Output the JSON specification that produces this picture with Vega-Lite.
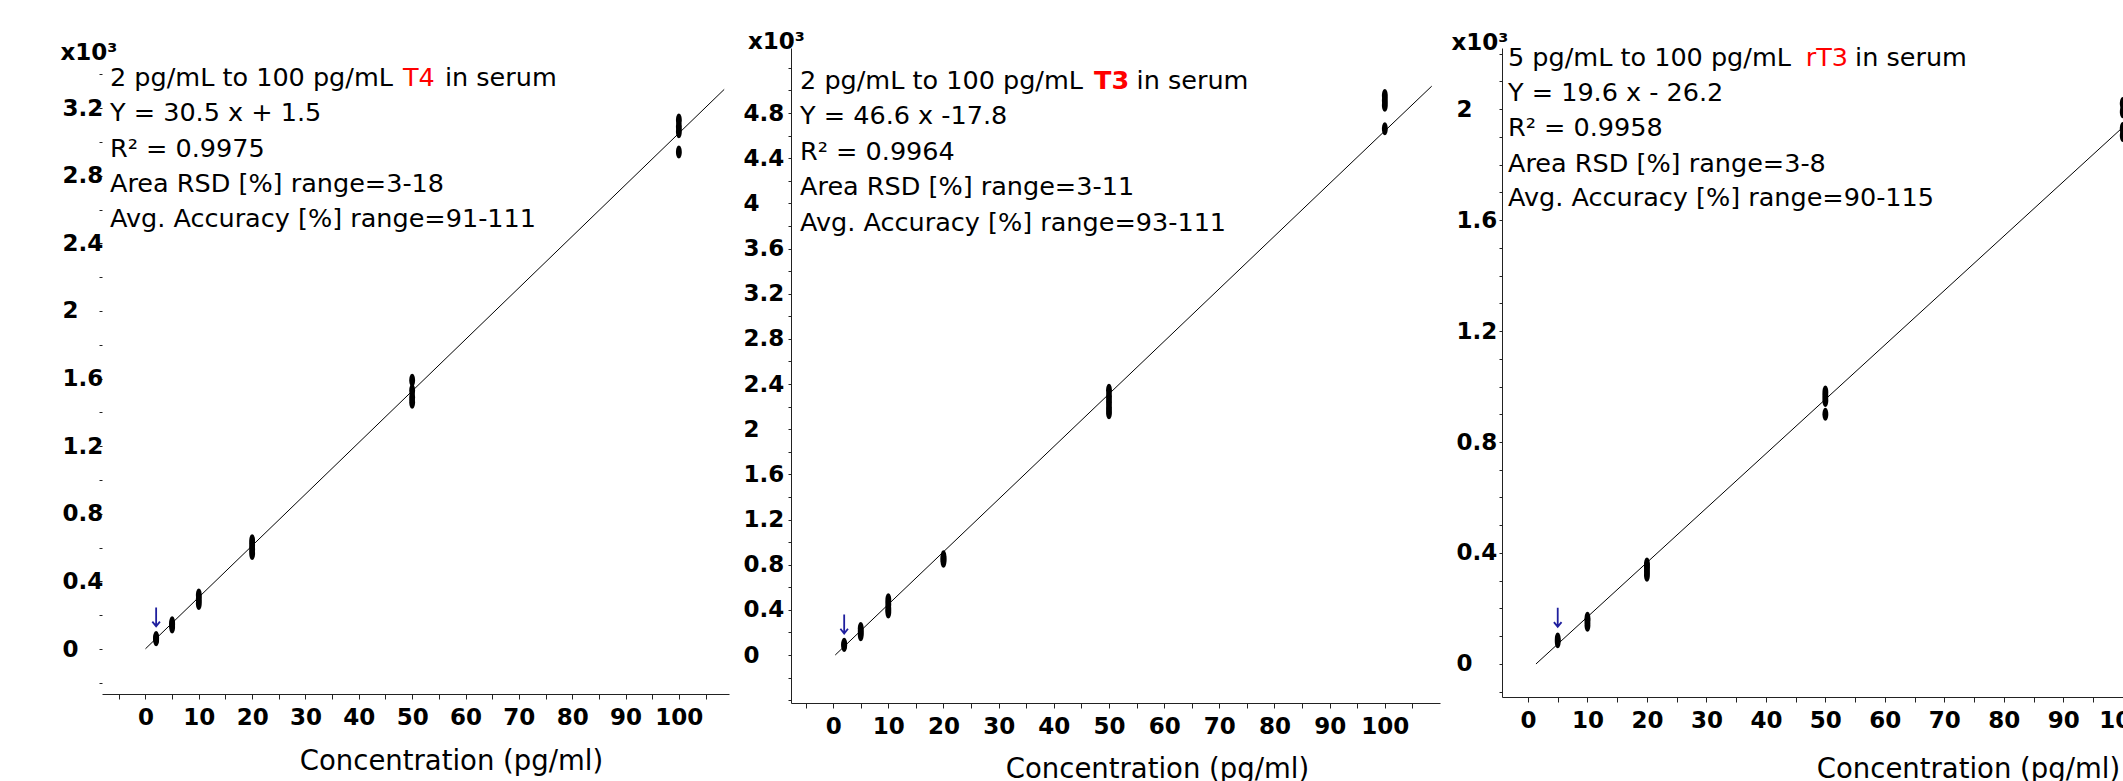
{
  "$schema": "https://vega.github.io/schema/vega-lite/v6.json",
  "background": "white",
  "autosize": {"type": "pad"},
  "padding": {"left": 60, "top": 30, "right": 0, "bottom": 0},
  "config": {
    "view": {"stroke": null},
    "axis": {
      "grid": false,
      "labelFont": "DejaVu Sans",
      "labelFontWeight": "bold",
      "labelFontSize": 23,
      "labelColor": "black",
      "domainColor": "#222222",
      "tickColor": "#222222",
      "domainWidth": 1,
      "tickWidth": 1,
      "titleFont": "DejaVu Sans",
      "titleColor": "black",
      "labelOverlap": false,
      "labelFlush": false
    }
  },
  "datasets": {
    "points": [
      {"panel": "T4", "conc": 2, "resp": 0.055}, {"panel": "T4", "conc": 2, "resp": 0.062}, {"panel": "T4", "conc": 2, "resp": 0.068},
      {"panel": "T4", "conc": 5, "resp": 0.13}, {"panel": "T4", "conc": 5, "resp": 0.145}, {"panel": "T4", "conc": 5, "resp": 0.155},
      {"panel": "T4", "conc": 10, "resp": 0.27}, {"panel": "T4", "conc": 10, "resp": 0.295}, {"panel": "T4", "conc": 10, "resp": 0.32},
      {"panel": "T4", "conc": 20, "resp": 0.565}, {"panel": "T4", "conc": 20, "resp": 0.59}, {"panel": "T4", "conc": 20, "resp": 0.615}, {"panel": "T4", "conc": 20, "resp": 0.64},
      {"panel": "T4", "conc": 50, "resp": 1.46}, {"panel": "T4", "conc": 50, "resp": 1.49}, {"panel": "T4", "conc": 50, "resp": 1.53}, {"panel": "T4", "conc": 50, "resp": 1.59},
      {"panel": "T4", "conc": 100, "resp": 2.94}, {"panel": "T4", "conc": 100, "resp": 3.06}, {"panel": "T4", "conc": 100, "resp": 3.09}, {"panel": "T4", "conc": 100, "resp": 3.13},
      {"panel": "T3", "conc": 2, "resp": 0.085}, {"panel": "T3", "conc": 2, "resp": 0.095},
      {"panel": "T3", "conc": 5, "resp": 0.18}, {"panel": "T3", "conc": 5, "resp": 0.205}, {"panel": "T3", "conc": 5, "resp": 0.235},
      {"panel": "T3", "conc": 10, "resp": 0.38}, {"panel": "T3", "conc": 10, "resp": 0.41}, {"panel": "T3", "conc": 10, "resp": 0.45}, {"panel": "T3", "conc": 10, "resp": 0.49},
      {"panel": "T3", "conc": 20, "resp": 0.83}, {"panel": "T3", "conc": 20, "resp": 0.85}, {"panel": "T3", "conc": 20, "resp": 0.87},
      {"panel": "T3", "conc": 50, "resp": 2.145}, {"panel": "T3", "conc": 50, "resp": 2.19}, {"panel": "T3", "conc": 50, "resp": 2.24}, {"panel": "T3", "conc": 50, "resp": 2.29}, {"panel": "T3", "conc": 50, "resp": 2.345},
      {"panel": "T3", "conc": 100, "resp": 4.66}, {"panel": "T3", "conc": 100, "resp": 4.87}, {"panel": "T3", "conc": 100, "resp": 4.91}, {"panel": "T3", "conc": 100, "resp": 4.955},
      {"panel": "rT3", "conc": 5, "resp": 0.08}, {"panel": "rT3", "conc": 5, "resp": 0.09},
      {"panel": "rT3", "conc": 10, "resp": 0.14}, {"panel": "rT3", "conc": 10, "resp": 0.155}, {"panel": "rT3", "conc": 10, "resp": 0.165},
      {"panel": "rT3", "conc": 20, "resp": 0.32}, {"panel": "rT3", "conc": 20, "resp": 0.335}, {"panel": "rT3", "conc": 20, "resp": 0.35}, {"panel": "rT3", "conc": 20, "resp": 0.36},
      {"panel": "rT3", "conc": 50, "resp": 0.9}, {"panel": "rT3", "conc": 50, "resp": 0.95}, {"panel": "rT3", "conc": 50, "resp": 0.965}, {"panel": "rT3", "conc": 50, "resp": 0.98},
      {"panel": "rT3", "conc": 100, "resp": 1.905}, {"panel": "rT3", "conc": 100, "resp": 1.93}, {"panel": "rT3", "conc": 100, "resp": 1.99}, {"panel": "rT3", "conc": 100, "resp": 2.02}
    ],
    "fits": [
      {"panel": "T4", "conc": 0, "resp": 0.0015}, {"panel": "T4", "conc": 108.5, "resp": 3.311},
      {"panel": "T3", "conc": 0.38, "resp": 0}, {"panel": "T3", "conc": 108.5, "resp": 5.038},
      {"panel": "rT3", "conc": 1.34, "resp": 0}, {"panel": "rT3", "conc": 110, "resp": 2.13}
    ],
    "arrows": [
      {"panel": "T4", "conc": 2, "resp": 0.19},
      {"panel": "T3", "conc": 2, "resp": 0.275},
      {"panel": "rT3", "conc": 5, "resp": 0.168}
    ],
    "notes": [
      {"panel": "T4", "part": "plain", "conc": -6.65, "resp": 3.331, "text": "2 pg/mL to 100 pg/mL"},
      {"panel": "T4", "part": "red", "conc": 48.27, "resp": 3.331, "text": "T4"},
      {"panel": "T4", "part": "plain", "conc": 56.14, "resp": 3.331, "text": "in serum"},
      {"panel": "T4", "part": "plain", "conc": -6.65, "resp": 3.124, "text": "Y = 30.5 x + 1.5"},
      {"panel": "T4", "part": "plain", "conc": -6.65, "resp": 2.911, "text": "R² = 0.9975"},
      {"panel": "T4", "part": "plain", "conc": -6.65, "resp": 2.706, "text": "Area RSD [%] range=3-18"},
      {"panel": "T4", "part": "plain", "conc": -6.65, "resp": 2.497, "text": "Avg. Accuracy [%] range=91-111"},
      {"panel": "T3", "part": "plain", "conc": -6.0, "resp": 5.013, "text": "2 pg/mL to 100 pg/mL"},
      {"panel": "T3", "part": "red", "conc": 47.3, "resp": 5.013, "text": "T3"},
      {"panel": "T3", "part": "plain", "conc": 55.0, "resp": 5.013, "text": "in serum"},
      {"panel": "T3", "part": "plain", "conc": -6.0, "resp": 4.703, "text": "Y = 46.6 x -17.8"},
      {"panel": "T3", "part": "plain", "conc": -6.0, "resp": 4.384, "text": "R² = 0.9964"},
      {"panel": "T3", "part": "plain", "conc": -6.0, "resp": 4.074, "text": "Area RSD [%] range=3-11"},
      {"panel": "T3", "part": "plain", "conc": -6.0, "resp": 3.756, "text": "Avg. Accuracy [%] range=93-111"},
      {"panel": "rT3", "part": "plain", "conc": -3.36, "resp": 2.155, "text": "5 pg/mL to 100 pg/mL"},
      {"panel": "rT3", "part": "red", "conc": 46.7, "resp": 2.155, "text": "rT3"},
      {"panel": "rT3", "part": "plain", "conc": 55.0, "resp": 2.155, "text": "in serum"},
      {"panel": "rT3", "part": "plain", "conc": -3.36, "resp": 2.029, "text": "Y = 19.6 x - 26.2"},
      {"panel": "rT3", "part": "plain", "conc": -3.36, "resp": 1.903, "text": "R² = 0.9958"},
      {"panel": "rT3", "part": "plain", "conc": -3.36, "resp": 1.774, "text": "Area RSD [%] range=3-8"},
      {"panel": "rT3", "part": "plain", "conc": -3.36, "resp": 1.65, "text": "Avg. Accuracy [%] range=90-115"}
    ]
  },
  "spacing": 62,
  "bounds": "flush",
  "hconcat": [
    {
      "width": 627,
      "height": 646,
      "encoding": {
        "x": {
          "field": "conc", "type": "quantitative",
          "scale": {"domain": [-8.15, 109.4], "nice": false, "zero": false},
          "axis": {
            "title": "Concentration (pg/ml)",
            "titleFontSize": 27.5, "titleFontWeight": "normal",
            "titleAlign": "center", "titleBaseline": "alphabetic",
            "titleX": 349, "titleY": 75,
            "values": [-5, 0, 5, 10, 15, 20, 25, 30, 35, 40, 45, 50, 55, 60, 65, 70, 75, 80, 85, 90, 95, 100, 105],
            "labelExpr": "(datum.value >= 0 && datum.value <= 100 && datum.value % 10 == 0) ? format(datum.value, 'd') : ''",
            "tickSize": 5, "labelPadding": 7, "labelDx": 5
          }
        },
        "y": {
          "field": "resp", "type": "quantitative",
          "scale": {"domain": [-0.266, 3.556], "nice": false, "zero": false},
          "axis": {
            "title": "x10³",
            "titleAngle": 0, "titleAlign": "left", "titleBaseline": "alphabetic",
            "titleX": -42, "titleY": 11,
            "titleFontWeight": "bold", "titleFontSize": 23,
            "values": [-0.2, 0, 0.2, 0.4, 0.6, 0.8, 1, 1.2, 1.4, 1.6, 1.8, 2, 2.2, 2.4, 2.6, 2.8, 3, 3.2, 3.4],
            "labelExpr": "(datum.value > -0.01 && datum.value < 3.3 && abs(round(datum.value * 10)) % 4 == 0) ? format(datum.value, '.2~f') : ''",
            "labelAlign": "left", "labelBaseline": "middle", "labelPadding": 37,
            "tickSize": 3, "domain": false
          }
        }
      },
      "layer": [
        {
          "data": {"values": [{}]},
          "mark": {"type": "rule", "color": "#222222", "strokeWidth": 1},
          "encoding": {"x": {"datum": -8.15}, "y": {"datum": -0.266}, "y2": {"datum": 3.45}}
        },
        {
          "data": {"name": "fits"},
          "transform": [{"filter": "datum.panel == 'T4'"}],
          "mark": {"type": "line", "color": "black", "strokeWidth": 1, "clip": true},
          "encoding": {}
        },
        {
          "data": {"name": "points"},
          "transform": [{"filter": "datum.panel == 'T4'"}],
          "mark": {"type": "point", "shape": "M0,-1C0.249,-1 0.45,-0.552 0.45,0C0.45,0.552 0.249,1 0,1C-0.249,1 -0.45,0.552 -0.45,0C-0.45,-0.552 -0.249,-1 0,-1Z", "filled": true, "color": "black", "opacity": 1, "size": 169, "strokeWidth": 0}
        },
        {
          "data": {"name": "arrows"},
          "transform": [{"filter": "datum.panel == 'T4'"}],
          "mark": {"type": "point", "shape": "M0,-1L0,1M-0.4,0.5L0,1L0.4,0.5", "filled": false, "color": "#1f1f9e", "opacity": 1, "size": 361, "strokeWidth": 1.8}
        },
        {
          "data": {"name": "notes"},
          "transform": [{"filter": "datum.panel == 'T4' && datum.part == 'plain'"}],
          "mark": {"type": "text", "align": "left", "baseline": "alphabetic", "font": "DejaVu Sans", "fontSize": 25.5, "color": "black"},
          "encoding": {"text": {"field": "text"}}
        },
        {
          "data": {"name": "notes"},
          "transform": [{"filter": "datum.panel == 'T4' && datum.part == 'red'"}],
          "mark": {"type": "text", "align": "left", "baseline": "alphabetic", "font": "DejaVu Sans", "fontSize": 25.5, "color": "#ff0000"},
          "encoding": {"text": {"field": "text"}}
        }
      ]
    },
    {
      "width": 649,
      "height": 655,
      "encoding": {
        "x": {
          "field": "conc", "type": "quantitative",
          "scale": {"domain": [-7.64, 110], "nice": false, "zero": false},
          "axis": {
            "title": "Concentration (pg/ml)",
            "titleFontSize": 27.5, "titleFontWeight": "normal",
            "titleAlign": "center", "titleBaseline": "alphabetic",
            "titleX": 366, "titleY": 74,
            "values": [-5, 0, 5, 10, 15, 20, 25, 30, 35, 40, 45, 50, 55, 60, 65, 70, 75, 80, 85, 90, 95, 100, 105],
            "labelExpr": "(datum.value >= 0 && datum.value <= 100 && datum.value % 10 == 0) ? format(datum.value, 'd') : ''",
            "tickSize": 5, "labelPadding": 7, "labelDx": 5
          }
        },
        "y": {
          "field": "resp", "type": "quantitative",
          "scale": {"domain": [-0.425, 5.376], "nice": false, "zero": false},
          "axis": {
            "title": "x10³",
            "titleAngle": 0, "titleAlign": "left", "titleBaseline": "alphabetic",
            "titleX": -43.5, "titleY": 0,
            "titleFontWeight": "bold", "titleFontSize": 23,
            "values": [-0.4, -0.2, 0, 0.2, 0.4, 0.6, 0.8, 1, 1.2, 1.4, 1.6, 1.8, 2, 2.2, 2.4, 2.6, 2.8, 3, 3.2, 3.4, 3.6, 3.8, 4, 4.2, 4.4, 4.6, 4.8, 5, 5.2],
            "labelExpr": "(datum.value > -0.01 && datum.value < 4.9 && abs(round(datum.value * 10)) % 4 == 0) ? format(datum.value, '.2~f') : ''",
            "labelAlign": "left", "labelBaseline": "middle", "labelPadding": 45,
            "tickSize": 3
          }
        }
      },
      "layer": [
        {
          "data": {"name": "fits"},
          "transform": [{"filter": "datum.panel == 'T3'"}],
          "mark": {"type": "line", "color": "black", "strokeWidth": 1, "clip": true},
          "encoding": {}
        },
        {
          "data": {"name": "points"},
          "transform": [{"filter": "datum.panel == 'T3'"}],
          "mark": {"type": "point", "shape": "M0,-1C0.249,-1 0.45,-0.552 0.45,0C0.45,0.552 0.249,1 0,1C-0.249,1 -0.45,0.552 -0.45,0C-0.45,-0.552 -0.249,-1 0,-1Z", "filled": true, "color": "black", "opacity": 1, "size": 169, "strokeWidth": 0}
        },
        {
          "data": {"name": "arrows"},
          "transform": [{"filter": "datum.panel == 'T3'"}],
          "mark": {"type": "point", "shape": "M0,-1L0,1M-0.4,0.5L0,1L0.4,0.5", "filled": false, "color": "#1f1f9e", "opacity": 1, "size": 361, "strokeWidth": 1.8}
        },
        {
          "data": {"name": "notes"},
          "transform": [{"filter": "datum.panel == 'T3' && datum.part == 'plain'"}],
          "mark": {"type": "text", "align": "left", "baseline": "alphabetic", "font": "DejaVu Sans", "fontSize": 25.5, "color": "black"},
          "encoding": {"text": {"field": "text"}}
        },
        {
          "data": {"name": "notes"},
          "transform": [{"filter": "datum.panel == 'T3' && datum.part == 'red'"}],
          "mark": {"type": "text", "align": "left", "baseline": "alphabetic", "font": "DejaVu Sans", "fontSize": 25.5, "fontWeight": "bold", "color": "#ff0000"},
          "encoding": {"text": {"field": "text"}}
        }
      ]
    },
    {
      "width": 660,
      "height": 649,
      "encoding": {
        "x": {
          "field": "conc", "type": "quantitative",
          "scale": {"domain": [-4.37, 106.6], "nice": false, "zero": false},
          "axis": {
            "title": "Concentration (pg/ml)",
            "titleFontSize": 27.5, "titleFontWeight": "normal",
            "titleAlign": "center", "titleBaseline": "alphabetic",
            "titleX": 466, "titleY": 80,
            "values": [0, 5, 10, 15, 20, 25, 30, 35, 40, 45, 50, 55, 60, 65, 70, 75, 80, 85, 90, 95, 100, 105],
            "labelExpr": "(datum.value >= 0 && datum.value <= 100 && datum.value % 10 == 0) ? format(datum.value, 'd') : ''",
            "tickSize": 5, "labelPadding": 7, "labelDx": 5
          }
        },
        "y": {
          "field": "resp", "type": "quantitative",
          "scale": {"domain": [-0.119, 2.22], "nice": false, "zero": false},
          "axis": {
            "title": "x10³",
            "titleAngle": 0, "titleAlign": "left", "titleBaseline": "alphabetic",
            "titleX": -51, "titleY": 1,
            "titleFontWeight": "bold", "titleFontSize": 23,
            "values": [-0.1, 0, 0.1, 0.2, 0.3, 0.4, 0.5, 0.6, 0.7, 0.8, 0.9, 1, 1.1, 1.2, 1.3, 1.4, 1.5, 1.6, 1.7, 1.8, 1.9, 2, 2.1, 2.2],
            "labelExpr": "(datum.value > -0.01 && datum.value < 2.1 && abs(round(datum.value * 10)) % 4 == 0) ? format(datum.value, '.2~f') : ''",
            "labelAlign": "left", "labelBaseline": "middle", "labelPadding": 43,
            "tickSize": 3
          }
        }
      },
      "layer": [
        {
          "data": {"name": "fits"},
          "transform": [{"filter": "datum.panel == 'rT3'"}],
          "mark": {"type": "line", "color": "black", "strokeWidth": 1, "clip": true},
          "encoding": {}
        },
        {
          "data": {"name": "points"},
          "transform": [{"filter": "datum.panel == 'rT3'"}],
          "mark": {"type": "point", "shape": "M0,-1C0.249,-1 0.45,-0.552 0.45,0C0.45,0.552 0.249,1 0,1C-0.249,1 -0.45,0.552 -0.45,0C-0.45,-0.552 -0.249,-1 0,-1Z", "filled": true, "color": "black", "opacity": 1, "size": 169, "strokeWidth": 0}
        },
        {
          "data": {"name": "arrows"},
          "transform": [{"filter": "datum.panel == 'rT3'"}],
          "mark": {"type": "point", "shape": "M0,-1L0,1M-0.4,0.5L0,1L0.4,0.5", "filled": false, "color": "#1f1f9e", "opacity": 1, "size": 361, "strokeWidth": 1.8}
        },
        {
          "data": {"name": "notes"},
          "transform": [{"filter": "datum.panel == 'rT3' && datum.part == 'plain'"}],
          "mark": {"type": "text", "align": "left", "baseline": "alphabetic", "font": "DejaVu Sans", "fontSize": 25.5, "color": "black"},
          "encoding": {"text": {"field": "text"}}
        },
        {
          "data": {"name": "notes"},
          "transform": [{"filter": "datum.panel == 'rT3' && datum.part == 'red'"}],
          "mark": {"type": "text", "align": "left", "baseline": "alphabetic", "font": "DejaVu Sans", "fontSize": 25.5, "color": "#ff0000"},
          "encoding": {"text": {"field": "text"}}
        }
      ]
    }
  ]
}
